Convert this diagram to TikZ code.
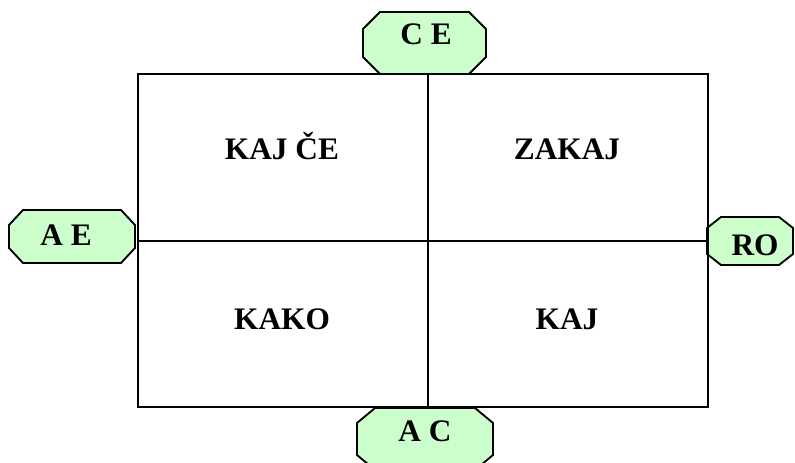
\documentclass[tikz,border=0pt]{standalone}
\usepackage{fontspec}
\setmainfont{Liberation Serif}
\begin{document}
\begin{tikzpicture}[x=0.75pt,y=-0.75pt,
  label text/.style={font=\fontsize{23.5}{27}\selectfont\bfseries, inner sep=0pt, anchor=base},
  octfill/.style={fill=octgreen, draw=black, line width=1.4pt, line join=miter},
  gridline/.style={draw=black, line width=1.6pt}]
\definecolor{octgreen}{HTML}{CCFFCC}
% canvas
\useasboundingbox (0,0) rectangle (795,463);
\clip (0,0) rectangle (795,463);

% octagon: left, top, right, bottom, horizontal cut, vertical cut
\newcommand\octagonbox[6]{%
  \path[octfill] (#1+#5,#2) -- (#3-#5,#2) -- (#3,#2+#6) -- (#3,#4-#6)
    -- (#3-#5,#4) -- (#1+#5,#4) -- (#1,#4-#6) -- (#1,#2+#6) -- cycle;}

\octagonbox{363}{12}{486}{74}{17}{17}
\octagonbox{9}{210}{135}{263}{14}{15}
\octagonbox{707}{217}{793}{265}{14}{11}
\octagonbox{357}{408}{493}{470}{18}{15}

% grid of four cells
\coordinate (tl) at (138,74);
\coordinate (br) at (708,407);
\coordinate (mt) at (428,74);
\coordinate (mb) at (428,407);
\coordinate (ml) at (138,241);
\coordinate (mr) at (708,241);
\draw[gridline] (tl) rectangle (br);
\draw[gridline] (mt) -- (mb);
\draw[gridline] (ml) -- (mr);

% cell labels
\node[label text] (kajce) at (282,160) {KAJ ČE};
\node[label text] (zakaj) at (567,160) {ZAKAJ};
\node[label text] (kako)  at (282,329) {KAKO};
\node[label text] (kaj)   at (567,329) {KAJ};

% axis labels
\node[label text] (ce) at (426,45)  {C E};
\node[label text] (ae) at (66,245)  {A E};
\node[label text] (ro) at (755,255) {RO};
\node[label text] (ac) at (425,441) {A C};
\end{tikzpicture}
\end{document}
